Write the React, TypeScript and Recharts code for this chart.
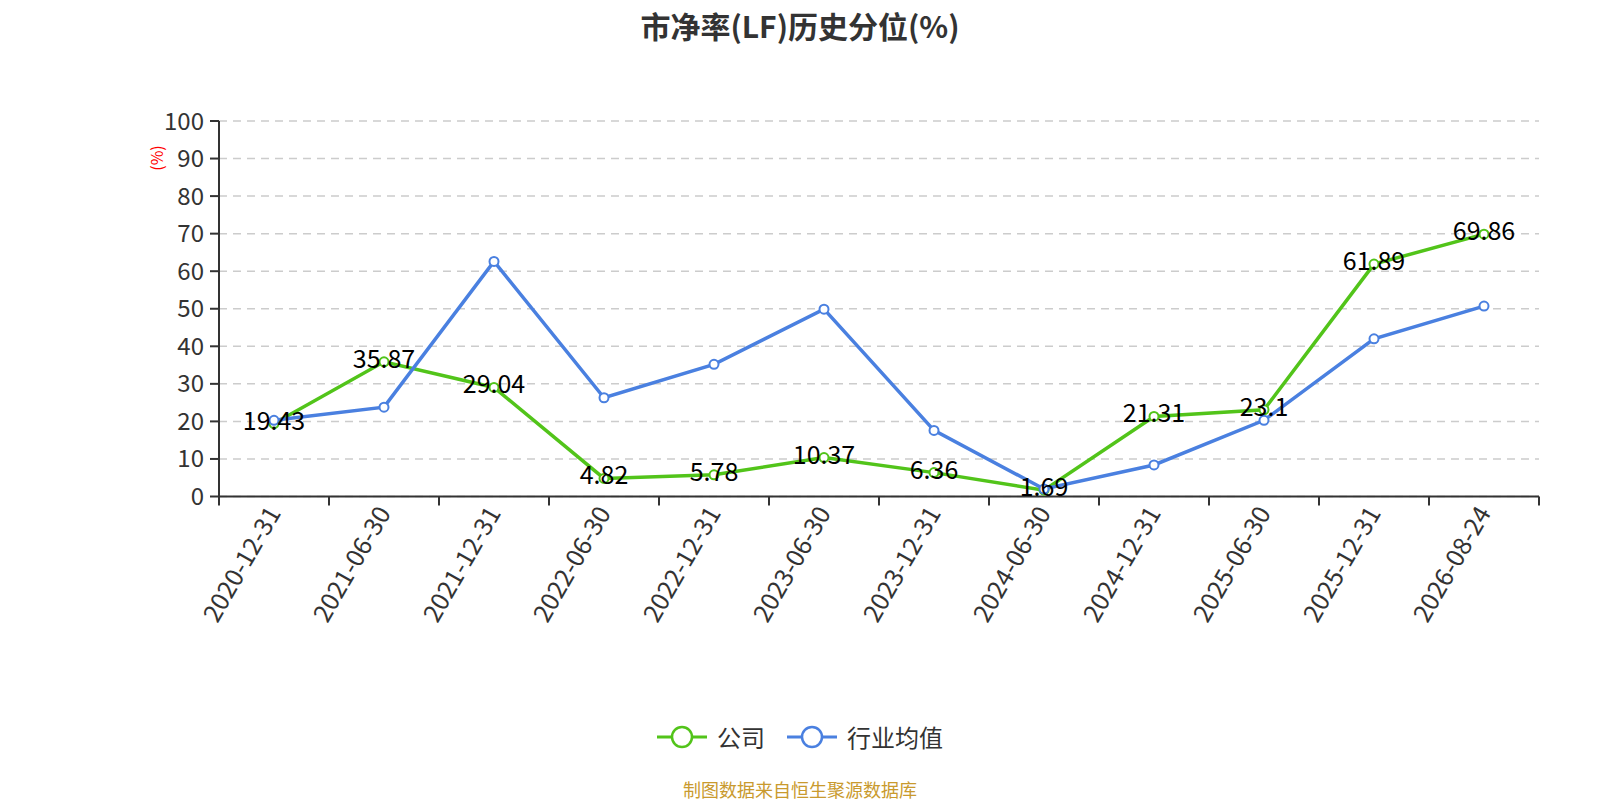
import React from 'react';
import { LineChart, Line, XAxis, YAxis, CartesianGrid, LabelList } from 'recharts';

const FONT = '"Noto Sans CJK SC", "Noto Sans", sans-serif';

const GREEN = '#52c41a';
const BLUE = '#4a80e0';

// report dates on the category axis
const categories = [
    '2020-12-31', '2021-06-30', '2021-12-31', '2022-06-30', '2022-12-31', '2023-06-30',
    '2023-12-31', '2024-06-30', '2024-12-31', '2025-06-30', '2025-12-31', '2026-08-24',
];

// 公司
const companyValues = [19.43, 35.87, 29.04, 4.82, 5.78, 10.37, 6.36, 1.69, 21.31, 23.1, 61.89, 69.86];

// 行业均值 (no labels shown)
const industryValues = [20.3, 23.8, 62.6, 26.3, 35.2, 49.9, 17.6, 2.0, 8.4, 20.3, 42.0, 50.7];

const yTicks = [0, 10, 20, 30, 40, 50, 60, 70, 80, 90, 100];

const data = categories.map((date, i) => ({
    date,
    company: companyValues[i],
    industry: industryValues[i],
}));

// tick marks sit on band boundaries, labels on band centres
const XTick = (props: any) => {
    const { x, y, payload, index } = props;
    const half = payload && typeof payload.offset === 'number' && payload.offset > 0 ? payload.offset : 55;
    const last = index === categories.length - 1;
    return (
        <g>
            <line x1={x - half} x2={x - half} y1={y} y2={y + 9} stroke="#333" strokeWidth={2} />
            {last && <line x1={x + half} x2={x + half} y1={y} y2={y + 9} stroke="#333" strokeWidth={2} />}
            <text
                x={x}
                y={y + 12}
                dy="0.35em"
                textAnchor="end"
                transform={`rotate(-60, ${x}, ${y + 12})`}
                fontSize={25}
                fill="#333"
                fontFamily={FONT}
            >
                {payload.value}
            </text>
        </g>
    );
};

const ValueLabel = (props: any) => {
    const { x, y, value } = props;
    return (
        <text x={x} y={y} dy={6} textAnchor="middle" fontSize={25} fill="#000" fontFamily={FONT}>
            {value}
        </text>
    );
};

const LegendIcon = ({ color }: { color: string }) => (
    <svg width={50} height={24} style={{ display: 'block' }}>
        <line x1={0} x2={50} y1={12} y2={12} stroke={color} strokeWidth={3} />
        <circle cx={25} cy={12} r={10} fill="#fff" stroke={color} strokeWidth={2.5} />
    </svg>
);

export default function App() {
    return (
        <div
            style={{
                position: 'absolute',
                left: 0,
                top: 0,
                width: 1600,
                height: 800,
                background: '#fff',
                fontFamily: FONT,
            }}
        >
            <div
                style={{
                    position: 'absolute',
                    top: 5,
                    left: 0,
                    width: 1600,
                    textAlign: 'center',
                    fontSize: 30,
                    fontWeight: 'bold',
                    color: '#333',
                    lineHeight: '40px',
                }}
            >
                市净率(LF)历史分位(%)
            </div>

            <LineChart width={1600} height={800} data={data} margin={{ top: 121, right: 61, left: 0, bottom: 163.5 }}>
                <CartesianGrid vertical={false} stroke="#ccc" strokeDasharray="8 6" strokeWidth={1.5} />
                <XAxis
                    dataKey="date"
                    scale="band"
                    height={140}
                    interval={0}
                    tickLine={false}
                    tickSize={0}
                    tickMargin={0}
                    axisLine={{ stroke: '#333', strokeWidth: 2 }}
                    tick={<XTick />}
                />
                <YAxis
                    width={219}
                    domain={[0, 100]}
                    ticks={yTicks}
                    interval={0}
                    tickSize={9}
                    tickMargin={6}
                    axisLine={{ stroke: '#333', strokeWidth: 2 }}
                    tickLine={{ stroke: '#333', strokeWidth: 2 }}
                    tick={{ fontSize: 24, fill: '#333', fontFamily: FONT }}
                    label={{
                        content: (p: any) => {
                            const vb = p.viewBox || { x: 0, y: 121, width: 219 };
                            const cx = vb.x + vb.width - 62;
                            const cy = vb.y + 37;
                            return (
                                <text
                                    x={cx}
                                    y={cy}
                                    dy="0.35em"
                                    textAnchor="middle"
                                    transform={`rotate(-90, ${cx}, ${cy})`}
                                    fontSize={16}
                                    fill="#ff0000"
                                    fontFamily={FONT}
                                >
                                    (%)
                                </text>
                            );
                        },
                    }}
                />
                <Line
                    dataKey="company"
                    stroke={GREEN}
                    strokeWidth={3.5}
                    dot={{ r: 4.5, fill: '#fff', stroke: GREEN, strokeWidth: 2 }}
                    isAnimationActive={false}
                />
                <Line
                    dataKey="industry"
                    stroke={BLUE}
                    strokeWidth={3.5}
                    dot={{ r: 4.5, fill: '#fff', stroke: BLUE, strokeWidth: 2 }}
                    isAnimationActive={false}
                />
                {/* labels drawn last so they sit above both lines */}
                <Line dataKey="company" stroke="none" dot={false} activeDot={false} legendType="none" isAnimationActive={false}>
                    <LabelList dataKey="company" content={<ValueLabel />} />
                </Line>
            </LineChart>

            <div
                style={{
                    position: 'absolute',
                    top: 723,
                    left: 0,
                    width: 1600,
                    display: 'flex',
                    justifyContent: 'center',
                    alignItems: 'center',
                    fontSize: 24,
                    color: '#333',
                    lineHeight: '28px',
                }}
            >
                <LegendIcon color={GREEN} />
                <span style={{ marginLeft: 10, marginRight: 22 }}>公司</span>
                <LegendIcon color={BLUE} />
                <span style={{ marginLeft: 10 }}>行业均值</span>
            </div>

            <div
                style={{
                    position: 'absolute',
                    top: 777,
                    left: 0,
                    width: 1600,
                    textAlign: 'center',
                    fontSize: 18,
                    color: '#c99a2e',
                    lineHeight: '24px',
                }}
            >
                制图数据来自恒生聚源数据库
            </div>
        </div>
    );
}
